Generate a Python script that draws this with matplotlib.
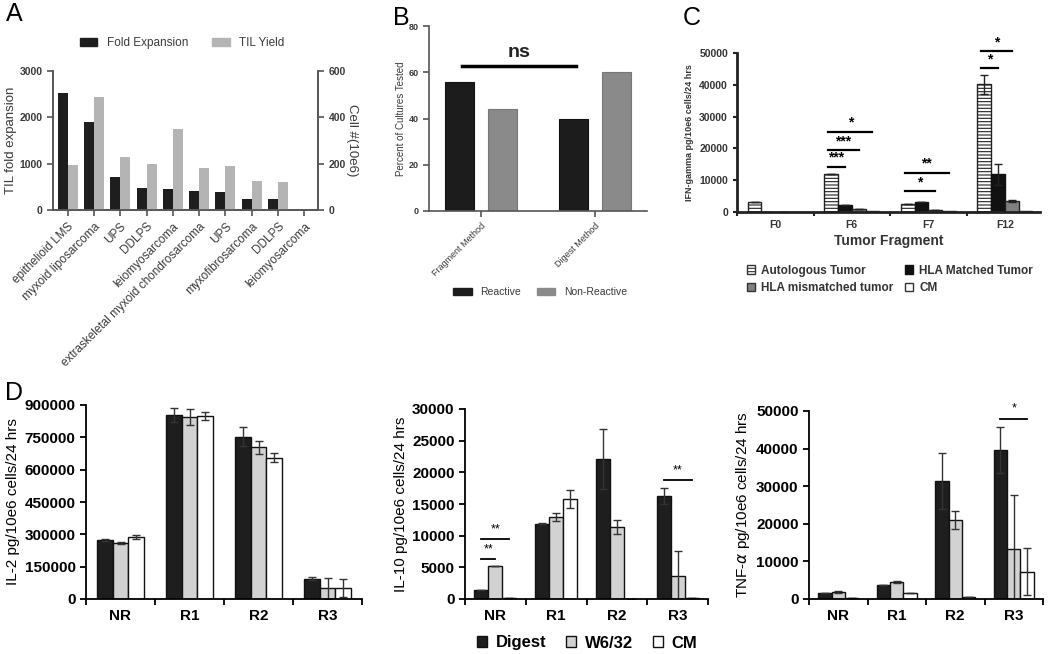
import numpy as np
import matplotlib
matplotlib.use("Agg")
import matplotlib.pyplot as plt
from matplotlib.patches import Patch

plt.rcParams['font.family'] = ['Liberation Sans', 'DejaVu Sans']
plt.rcParams['hatch.linewidth'] = 0.8

# ---- data ----
# A
a_types = ["epithelioid LMS", "myxoid liposarcoma", "UPS", "DDLPS", "leiomyosarcoma",
           "extraskeletal myxoid chondrosarcoma", "UPS", "myxofibrosarcoma", "DDLPS", "leiomyosarcoma"]
a_fold = [2530, 1890, 720, 480, 460, 410, 390, 230, 230, 0]
a_yield = [195, 488, 230, 200, 348, 182, 188, 124, 120, 2]

# B
b_methods = ["Fragment Method", "Digest Method"]
b_reactive = [56, 40]
b_nonreactive = [44, 60]

# C
c_frag = ["F0", "F6", "F7", "F12"]
c_auto = [3300, 11800, 2500, 40200]
c_auto_err = [0, 0, 0, 3000]
c_match = [0, 2300, 3200, 11800]
c_match_err = [0, 0, 0, 3200]
c_mism = [0, 900, 700, 3500]
c_mism_err = [0, 0, 0, 300]
c_cm = [0, 400, 200, 300]
c_sig = [  # (group, bar_from, bar_to, height, label)
    (1, 0, 1, 14200, "***"), (1, 0, 2, 19500, "***"), (1, 0, 3, 25300, "*"),
    (2, 0, 2, 6600, "*"), (2, 0, 3, 12400, "**"),
    (3, 0, 1, 45300, "*"), (3, 0, 2, 50500, "*"),
]

# D
d_groups = ["NR", "R1", "R2", "R3"]
il2_digest = [275000, 853000, 753000, 94000]
il2_digest_err = [4000, 32000, 44000, 6000]
il2_w632 = [259000, 843000, 704000, 49000]
il2_w632_err = [5000, 37000, 30000, 48000]
il2_cm = [287000, 850000, 656000, 51000]
il2_cm_err = [8000, 19000, 20000, 44000]

il10_digest = [1470, 11900, 22100, 16300]
il10_digest_err = [0, 100, 4750, 1250]
il10_w632 = [5250, 13000, 11400, 3630]
il10_w632_err = [0, 650, 1100, 3950]
il10_cm = [150, 15800, 0, 200]
il10_cm_err = [0, 1450, 0, 0]
il10_sig = [(0, 0, 1, 6300, "**"), (0, 0, 2, 9500, "**"), (3, 0, 2, 18800, "**")]

tnf_digest = [1600, 3800, 31400, 39600]
tnf_digest_err = [0, 0, 7500, 6200]
tnf_w632 = [1850, 4500, 21000, 13250]
tnf_w632_err = [300, 300, 2400, 14300]
tnf_cm = [200, 1700, 400, 7240]
tnf_cm_err = [0, 0, 0, 6300]
tnf_sig = [(3, 0, 2, 48000, "*")]

W, H = 1050, 654
fig = plt.figure(figsize=(W / 100, H / 100), dpi=100)


def place(l, t, r, b):
    return fig.add_axes([l / W, 1 - b / H, (r - l) / W, (b - t) / H])


# ---------- Panel A ----------
tc = '#3a3a3a'
axA = place(53, 71, 318, 210)
x = np.arange(len(a_types))
axA.bar(x - 0.19, a_fold, 0.38, color='#1e1e1e')
axA.set_xlim(-0.56, 9.52)
axA.set_ylim(0, 3000)
axA.set_yticks([0, 1000, 2000, 3000])
axA2 = axA.twinx()
axA2.bar(x + 0.19, a_yield, 0.38, color='#b4b4b4')
axA2.set_ylim(0, 600)
axA2.set_yticks([0, 200, 400, 600])
for ax in (axA, axA2):
    ax.spines['top'].set_visible(False)
    for s in ax.spines.values():
        s.set_color('#555555')
        s.set_linewidth(1.2)
    ax.tick_params(colors='#555555', labelcolor=tc, labelsize=7.5, width=1.2, length=4)
    for t in ax.get_yticklabels():
        t.set_fontweight('bold')
axA.set_xticks(x)
axA.set_xticklabels(a_types, rotation=45, ha='right', rotation_mode='anchor', fontsize=8.5, color=tc)
axA.set_ylabel("TIL fold expansion", fontsize=9.5, color=tc, labelpad=2)
axA2.set_ylabel("Cell #(10e6)", fontsize=9.5, color=tc, rotation=270, labelpad=9)
fig.legend(handles=[Patch(color='#1e1e1e'), Patch(color='#b4b4b4')],
           labels=["Fold Expansion", "TIL Yield"], loc='center',
           bbox_to_anchor=(182 / W, 1 - 43 / H), ncol=2, frameon=False,
           fontsize=8.5, handlelength=1.5, handleheight=0.6, columnspacing=2.0,
           labelcolor=tc)

# ---------- Panel B ----------
axB = place(429, 26, 647, 211)
xb = np.arange(len(b_methods))
axB.bar(xb - 0.19, b_reactive, 0.25, color='#1c1c1c', edgecolor='#111111', lw=0.8)
axB.bar(xb + 0.19, b_nonreactive, 0.25, color='#8a8a8a', edgecolor='#777777', lw=0.8)
axB.set_xlim(-0.456, 1.456)
axB.set_ylim(0, 80)
axB.set_yticks([0, 20, 40, 60, 80])
axB.set_xticks(xb)
axB.set_xticklabels(b_methods, rotation=45, ha='right', rotation_mode='anchor', fontsize=7.5, color=tc)
for s in ['top', 'right']:
    axB.spines[s].set_visible(False)
for s in ['left', 'bottom']:
    axB.spines[s].set_color('#555555')
    axB.spines[s].set_linewidth(1.2)
axB.tick_params(colors='#555555', labelcolor=tc, labelsize=6.5, width=1.2, length=4)
for t in axB.get_yticklabels():
    t.set_fontweight('bold')
axB.set_ylabel("Percent of Cultures Tested", fontsize=7, color=tc, labelpad=2)
axB.plot([-0.17, 0.83], [62.7, 62.7], color='black', lw=2.5)
axB.text(0.33, 65, "ns", ha='center', va='bottom', fontsize=14, fontweight='bold', color='#222222')
fig.legend(handles=[Patch(color='#1c1c1c'), Patch(color='#8a8a8a')],
           labels=["Reactive", "Non-Reactive"], loc='center',
           bbox_to_anchor=(540 / W, 1 - 292 / H), ncol=2, frameon=False,
           fontsize=7.5, handlelength=1.8, handleheight=0.6, columnspacing=1.5,
           labelcolor=tc)

# ---------- Panel C ----------
axC = place(737, 53, 1040, 212)
xc = np.arange(len(c_frag))
bw = 0.18
offs = [-0.27, -0.09, 0.09, 0.27]
ekw = dict(elinewidth=1, ecolor='#222222', capthick=1)
axC.bar(xc + offs[0], c_auto, bw, yerr=c_auto_err, capsize=3, error_kw=ekw,
        color='white', edgecolor='#222222', hatch='-----', lw=1)
axC.bar(xc + offs[1], c_match, bw, yerr=c_match_err, capsize=3, error_kw=ekw,
        color='#111111', edgecolor='#111111', lw=1)
axC.bar(xc + offs[2], c_mism, bw, yerr=c_mism_err, capsize=3, error_kw=ekw,
        color='#808080', edgecolor='#222222', lw=1)
axC.bar(xc + offs[3], c_cm, bw, color='white', edgecolor='#222222', lw=1)
axC.set_xlim(-0.5, 3.46)
axC.set_ylim(0, 50000)
axC.set_yticks(np.arange(0, 50001, 10000))
axC.set_xticks(np.arange(-0.5, 3.5, 1.0))
axC.set_xticklabels([])
axC.set_xticks(xc, minor=True)
axC.set_xticklabels(c_frag, minor=True, fontsize=7.5, fontweight='bold', color='#333333')
axC.tick_params(axis='x', which='minor', length=0, pad=6)
axC.tick_params(axis='both', which='major', length=3, width=1.5, labelsize=7.5, colors='#222222')
for t in axC.get_yticklabels():
    t.set_fontweight('bold')
    t.set_color('#333333')
for s in ['top', 'right']:
    axC.spines[s].set_visible(False)
for s in ['left', 'bottom']:
    axC.spines[s].set_linewidth(2)
    axC.spines[s].set_color('#222222')
axC.set_ylabel("IFN-gamma pg/10e6 cells/24 hrs", fontsize=6.5, fontweight='bold', color='#333333', labelpad=4)
axC.set_xlabel("Tumor Fragment", fontsize=10, fontweight='bold', color='#333333', labelpad=3)
for g, i, j, h, lab in c_sig:
    x1, x2 = g + offs[i] - 0.04, g + offs[j]
    axC.plot([x1, x2], [h, h], color='black', lw=1.6, clip_on=False)
    axC.text((x1 + x2) / 2, h + 600, lab, ha='center', va='bottom', fontsize=10,
             fontweight='bold', clip_on=False)
fig.legend(handles=[Patch(facecolor='white', edgecolor='#333333', hatch='-----'),
                    Patch(facecolor='#808080', edgecolor='#333333'),
                    Patch(facecolor='#111111', edgecolor='#111111'),
                    Patch(facecolor='white', edgecolor='#333333')],
           labels=["Autologous Tumor", "HLA mismatched tumor", "HLA Matched Tumor", "CM"],
           loc='upper left', bbox_to_anchor=(736 / W, 1 - 254 / H), ncol=2, frameon=False,
           prop=dict(size=8.5, weight='bold'), labelcolor='#333333', handlelength=0.7,
           handleheight=0.7, handletextpad=0.5, columnspacing=1.0, labelspacing=0.45)

# ---------- Panel D ----------
def dpanel(box, dig, dig_e, w6, w6_e, cm, cm_e, ymax, step, ylabel, sig):
    ax = place(*box)
    xd = np.arange(len(d_groups))
    w = 0.23
    ek = dict(elinewidth=1, ecolor='#333333', capthick=1)
    ax.bar(xd - w, dig, w, yerr=dig_e, capsize=3, error_kw=ek,
           color='#1e1e1e', edgecolor='#111111', lw=1)
    ax.bar(xd, w6, w, yerr=w6_e, capsize=3, error_kw=ek,
           color='#d2d2d2', edgecolor='#111111', lw=1)
    ax.bar(xd + w, cm, w, yerr=cm_e, capsize=3, error_kw=ek,
           color='white', edgecolor='#111111', lw=1)
    ax.set_xlim(-0.5, 3.5)
    ax.set_ylim(0, ymax)
    ax.set_yticks(np.arange(0, ymax + 1, step))
    ax.set_xticks(np.arange(-0.5, 3.6, 1.0))
    ax.set_xticklabels([])
    ax.set_xticks(xd, minor=True)
    ax.set_xticklabels(d_groups, minor=True, fontsize=11, fontweight='bold')
    ax.tick_params(axis='x', which='minor', length=0, pad=7)
    ax.tick_params(axis='both', which='major', length=4, width=1.3, labelsize=11)
    for t in ax.get_yticklabels():
        t.set_fontweight('bold')
    for s in ['top', 'right']:
        ax.spines[s].set_visible(False)
    for s in ['left', 'bottom']:
        ax.spines[s].set_linewidth(1.3)
    ax.set_ylabel(ylabel, fontsize=11, labelpad=3)
    for g, i, j, h, lab in sig:
        x1, x2 = g + (i - 1) * w, g + (j - 1) * w
        ax.plot([x1, x2], [h, h], color='black', lw=1.3, clip_on=False)
        ax.text((x1 + x2) / 2, h + ymax * 0.02, lab, ha='center', va='bottom', fontsize=9,
                clip_on=False)
    return ax


dpanel((86, 405, 362, 599), il2_digest, il2_digest_err, il2_w632, il2_w632_err,
       il2_cm, il2_cm_err, 900000, 150000, "IL-2 pg/10e6 cells/24 hrs", [])
dpanel((465, 409, 708, 599), il10_digest, il10_digest_err, il10_w632, il10_w632_err,
       il10_cm, il10_cm_err, 30000, 5000, "IL-10 pg/10e6 cells/24 hrs", il10_sig)
dpanel((809, 411, 1043, 599), tnf_digest, tnf_digest_err, tnf_w632, tnf_w632_err,
       tnf_cm, tnf_cm_err, 50000, 10000, r"TNF-$\alpha$ pg/10e6 cells/24 hrs", tnf_sig)

fig.legend(handles=[Patch(facecolor='#1e1e1e', edgecolor='#111111'),
                    Patch(facecolor='#d2d2d2', edgecolor='#111111'),
                    Patch(facecolor='white', edgecolor='#111111')],
           labels=["Digest", "W6/32", "CM"], loc='center',
           bbox_to_anchor=(587 / W, 1 - 643 / H), ncol=3, frameon=False,
           prop=dict(size=12, weight='bold'), handlelength=0.6, handleheight=0.6,
           handletextpad=0.5, columnspacing=1.2)

# panel letters
fig.text(6 / W, 1 - 2 / H, "A", fontsize=18, va='top')
fig.text(393 / W, 1 - 6 / H, "B", fontsize=18, va='top')
fig.text(683 / W, 1 - 6 / H, "C", fontsize=18, va='top')
fig.text(5 / W, 1 - 381 / H, "D", fontsize=18, va='top')

fig.savefig("out.png", dpi=100)
